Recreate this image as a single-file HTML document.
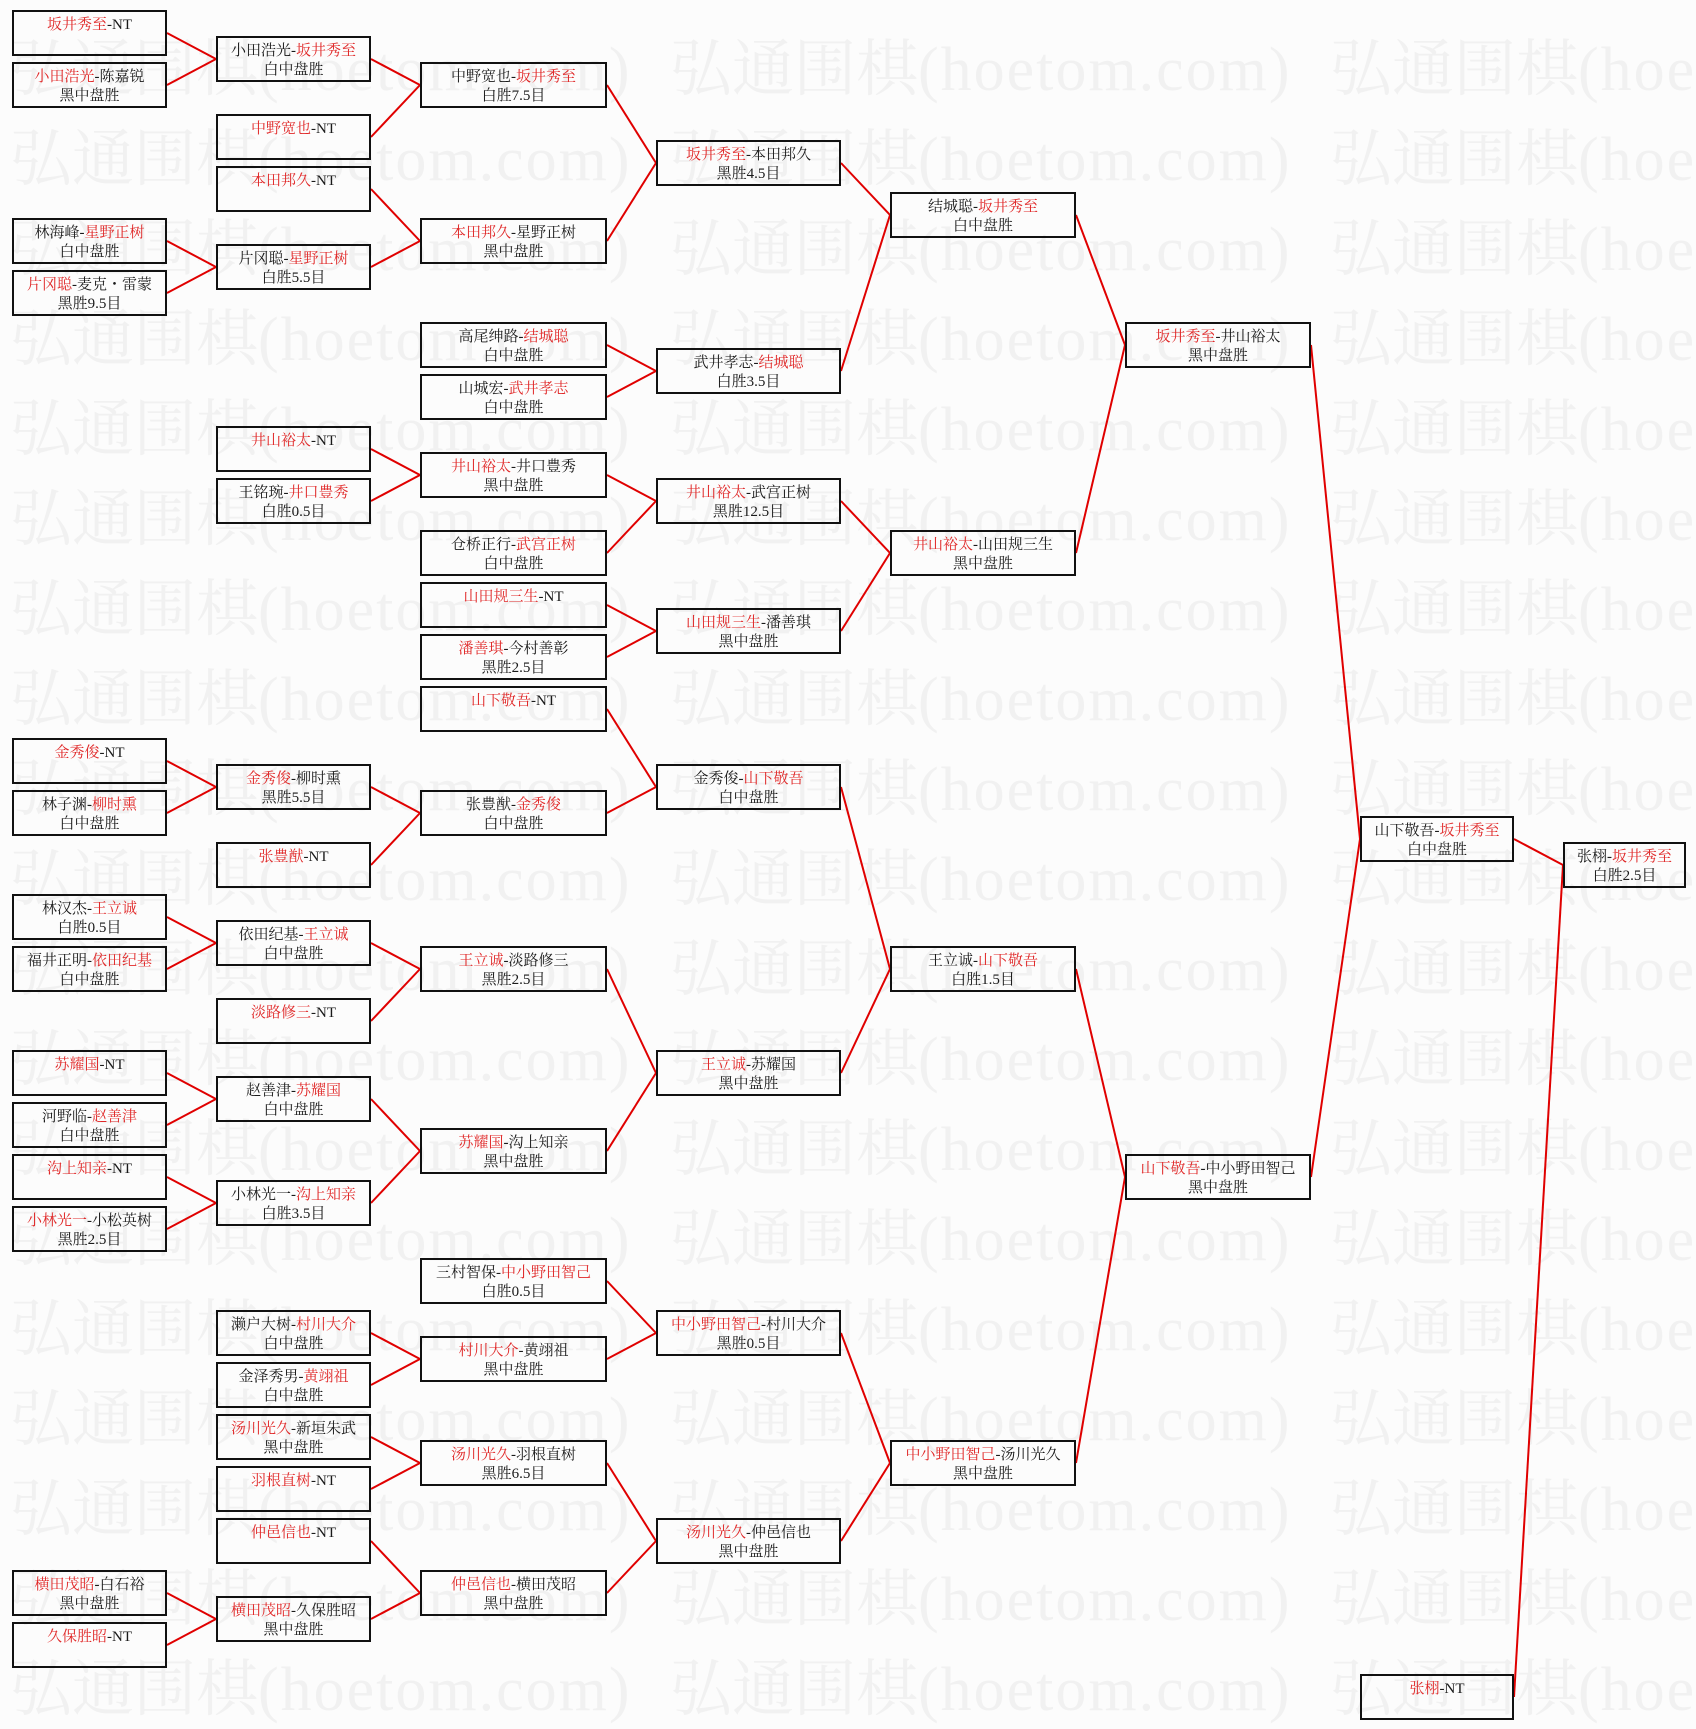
<!DOCTYPE html>
<html><head><meta charset="utf-8">
<style>
html,body{margin:0;padding:0;}
body{width:1696px;height:1729px;position:relative;overflow:hidden;background:#fcfcfc;font-family:"Liberation Serif","Noto Serif CJK SC",serif;}
.wm{position:absolute;left:10px;white-space:nowrap;font-size:62px;line-height:62px;color:#f1f1f1;font-family:"Liberation Serif","Noto Serif CJK SC",serif;}
.wm span.u{display:inline-block;width:660px;}
.wm i{font-style:normal;font-family:"Liberation Serif",serif;letter-spacing:2px;}
svg{position:absolute;left:0;top:0;}
.b{position:absolute;height:46px;box-sizing:border-box;border:2px solid #111;text-align:center;font-size:15px;line-height:19px;padding-top:4px;white-space:nowrap;color:#1a1a1a;}
.c1,.c2{width:155px}.c1{left:12px}.c2{left:216px}
.c3{left:420px;width:187px}.c4{left:656px;width:185px}
.c5{left:890px;width:186px}.c6{left:1125px;width:186px}
.c7{left:1360px;width:154px}.c8{left:1563px;width:123px}
.r{color:#e02828}
</style></head><body>

<div class="wm" style="top:39px"><span class="u">弘通围棋<i>(hoetom.com)</i></span><span class="u">弘通围棋<i>(hoetom.com)</i></span><span class="u">弘通围棋<i>(hoetom.com)</i></span></div>
<div class="wm" style="top:129px"><span class="u">弘通围棋<i>(hoetom.com)</i></span><span class="u">弘通围棋<i>(hoetom.com)</i></span><span class="u">弘通围棋<i>(hoetom.com)</i></span></div>
<div class="wm" style="top:219px"><span class="u">弘通围棋<i>(hoetom.com)</i></span><span class="u">弘通围棋<i>(hoetom.com)</i></span><span class="u">弘通围棋<i>(hoetom.com)</i></span></div>
<div class="wm" style="top:309px"><span class="u">弘通围棋<i>(hoetom.com)</i></span><span class="u">弘通围棋<i>(hoetom.com)</i></span><span class="u">弘通围棋<i>(hoetom.com)</i></span></div>
<div class="wm" style="top:399px"><span class="u">弘通围棋<i>(hoetom.com)</i></span><span class="u">弘通围棋<i>(hoetom.com)</i></span><span class="u">弘通围棋<i>(hoetom.com)</i></span></div>
<div class="wm" style="top:489px"><span class="u">弘通围棋<i>(hoetom.com)</i></span><span class="u">弘通围棋<i>(hoetom.com)</i></span><span class="u">弘通围棋<i>(hoetom.com)</i></span></div>
<div class="wm" style="top:579px"><span class="u">弘通围棋<i>(hoetom.com)</i></span><span class="u">弘通围棋<i>(hoetom.com)</i></span><span class="u">弘通围棋<i>(hoetom.com)</i></span></div>
<div class="wm" style="top:669px"><span class="u">弘通围棋<i>(hoetom.com)</i></span><span class="u">弘通围棋<i>(hoetom.com)</i></span><span class="u">弘通围棋<i>(hoetom.com)</i></span></div>
<div class="wm" style="top:759px"><span class="u">弘通围棋<i>(hoetom.com)</i></span><span class="u">弘通围棋<i>(hoetom.com)</i></span><span class="u">弘通围棋<i>(hoetom.com)</i></span></div>
<div class="wm" style="top:849px"><span class="u">弘通围棋<i>(hoetom.com)</i></span><span class="u">弘通围棋<i>(hoetom.com)</i></span><span class="u">弘通围棋<i>(hoetom.com)</i></span></div>
<div class="wm" style="top:939px"><span class="u">弘通围棋<i>(hoetom.com)</i></span><span class="u">弘通围棋<i>(hoetom.com)</i></span><span class="u">弘通围棋<i>(hoetom.com)</i></span></div>
<div class="wm" style="top:1029px"><span class="u">弘通围棋<i>(hoetom.com)</i></span><span class="u">弘通围棋<i>(hoetom.com)</i></span><span class="u">弘通围棋<i>(hoetom.com)</i></span></div>
<div class="wm" style="top:1119px"><span class="u">弘通围棋<i>(hoetom.com)</i></span><span class="u">弘通围棋<i>(hoetom.com)</i></span><span class="u">弘通围棋<i>(hoetom.com)</i></span></div>
<div class="wm" style="top:1209px"><span class="u">弘通围棋<i>(hoetom.com)</i></span><span class="u">弘通围棋<i>(hoetom.com)</i></span><span class="u">弘通围棋<i>(hoetom.com)</i></span></div>
<div class="wm" style="top:1299px"><span class="u">弘通围棋<i>(hoetom.com)</i></span><span class="u">弘通围棋<i>(hoetom.com)</i></span><span class="u">弘通围棋<i>(hoetom.com)</i></span></div>
<div class="wm" style="top:1389px"><span class="u">弘通围棋<i>(hoetom.com)</i></span><span class="u">弘通围棋<i>(hoetom.com)</i></span><span class="u">弘通围棋<i>(hoetom.com)</i></span></div>
<div class="wm" style="top:1479px"><span class="u">弘通围棋<i>(hoetom.com)</i></span><span class="u">弘通围棋<i>(hoetom.com)</i></span><span class="u">弘通围棋<i>(hoetom.com)</i></span></div>
<div class="wm" style="top:1569px"><span class="u">弘通围棋<i>(hoetom.com)</i></span><span class="u">弘通围棋<i>(hoetom.com)</i></span><span class="u">弘通围棋<i>(hoetom.com)</i></span></div>
<div class="wm" style="top:1659px"><span class="u">弘通围棋<i>(hoetom.com)</i></span><span class="u">弘通围棋<i>(hoetom.com)</i></span><span class="u">弘通围棋<i>(hoetom.com)</i></span></div>

<svg width="1696" height="1729" viewBox="0 0 1696 1729">
<g stroke="#e00000" stroke-width="2" fill="none">
<line x1="167" y1="33" x2="216" y2="59"/><line x1="167" y1="85" x2="216" y2="59"/>
<line x1="167" y1="241" x2="216" y2="267"/><line x1="167" y1="293" x2="216" y2="267"/>
<line x1="167" y1="761" x2="216" y2="787"/><line x1="167" y1="813" x2="216" y2="787"/>
<line x1="167" y1="917" x2="216" y2="943"/><line x1="167" y1="969" x2="216" y2="943"/>
<line x1="167" y1="1073" x2="216" y2="1099"/><line x1="167" y1="1125" x2="216" y2="1099"/>
<line x1="167" y1="1177" x2="216" y2="1203"/><line x1="167" y1="1229" x2="216" y2="1203"/>
<line x1="167" y1="1593" x2="216" y2="1619"/><line x1="167" y1="1645" x2="216" y2="1619"/>

<line x1="371" y1="59" x2="420" y2="85"/><line x1="371" y1="137" x2="420" y2="85"/>
<line x1="371" y1="189" x2="420" y2="241"/><line x1="371" y1="267" x2="420" y2="241"/>
<line x1="371" y1="449" x2="420" y2="475"/><line x1="371" y1="501" x2="420" y2="475"/>
<line x1="371" y1="787" x2="420" y2="813"/><line x1="371" y1="865" x2="420" y2="813"/>
<line x1="371" y1="943" x2="420" y2="969"/><line x1="371" y1="1021" x2="420" y2="969"/>
<line x1="371" y1="1099" x2="420" y2="1151"/><line x1="371" y1="1203" x2="420" y2="1151"/>
<line x1="371" y1="1333" x2="420" y2="1359"/><line x1="371" y1="1385" x2="420" y2="1359"/>
<line x1="371" y1="1437" x2="420" y2="1463"/><line x1="371" y1="1489" x2="420" y2="1463"/>
<line x1="371" y1="1541" x2="420" y2="1593"/><line x1="371" y1="1619" x2="420" y2="1593"/>

<line x1="607" y1="85" x2="656" y2="163"/><line x1="607" y1="241" x2="656" y2="163"/>
<line x1="607" y1="345" x2="656" y2="371"/><line x1="607" y1="397" x2="656" y2="371"/>
<line x1="607" y1="475" x2="656" y2="501"/><line x1="607" y1="553" x2="656" y2="501"/>
<line x1="607" y1="605" x2="656" y2="631"/><line x1="607" y1="657" x2="656" y2="631"/>
<line x1="607" y1="709" x2="656" y2="787"/><line x1="607" y1="813" x2="656" y2="787"/>
<line x1="607" y1="969" x2="656" y2="1073"/><line x1="607" y1="1151" x2="656" y2="1073"/>
<line x1="607" y1="1281" x2="656" y2="1333"/><line x1="607" y1="1359" x2="656" y2="1333"/>
<line x1="607" y1="1463" x2="656" y2="1541"/><line x1="607" y1="1593" x2="656" y2="1541"/>

<line x1="841" y1="163" x2="890" y2="215"/><line x1="841" y1="371" x2="890" y2="215"/>
<line x1="841" y1="501" x2="890" y2="553"/><line x1="841" y1="631" x2="890" y2="553"/>
<line x1="841" y1="787" x2="890" y2="969"/><line x1="841" y1="1073" x2="890" y2="969"/>
<line x1="841" y1="1333" x2="890" y2="1463"/><line x1="841" y1="1541" x2="890" y2="1463"/>

<line x1="1076" y1="215" x2="1125" y2="345"/><line x1="1076" y1="553" x2="1125" y2="345"/>
<line x1="1076" y1="969" x2="1125" y2="1177"/><line x1="1076" y1="1463" x2="1125" y2="1177"/>

<line x1="1311" y1="345" x2="1360" y2="839"/><line x1="1311" y1="1177" x2="1360" y2="839"/>

<line x1="1514" y1="839" x2="1563" y2="865"/><line x1="1514" y1="1697" x2="1563" y2="865"/>
</g>
</svg>

<!-- Column 1 -->
<div class="b c1" style="top:10px"><span class="r">坂井秀至</span>-NT</div>
<div class="b c1" style="top:62px"><span class="r">小田浩光</span>-陈嘉锐<br>黑中盘胜</div>
<div class="b c1" style="top:218px">林海峰-<span class="r">星野正树</span><br>白中盘胜</div>
<div class="b c1" style="top:270px"><span class="r">片冈聪</span>-麦克・雷蒙<br>黑胜9.5目</div>
<div class="b c1" style="top:738px"><span class="r">金秀俊</span>-NT</div>
<div class="b c1" style="top:790px">林子渊-<span class="r">柳时熏</span><br>白中盘胜</div>
<div class="b c1" style="top:894px">林汉杰-<span class="r">王立诚</span><br>白胜0.5目</div>
<div class="b c1" style="top:946px">福井正明-<span class="r">依田纪基</span><br>白中盘胜</div>
<div class="b c1" style="top:1050px"><span class="r">苏耀国</span>-NT</div>
<div class="b c1" style="top:1102px">河野临-<span class="r">赵善津</span><br>白中盘胜</div>
<div class="b c1" style="top:1154px"><span class="r">沟上知亲</span>-NT</div>
<div class="b c1" style="top:1206px"><span class="r">小林光一</span>-小松英树<br>黑胜2.5目</div>
<div class="b c1" style="top:1570px"><span class="r">横田茂昭</span>-白石裕<br>黑中盘胜</div>
<div class="b c1" style="top:1622px"><span class="r">久保胜昭</span>-NT</div>

<!-- Column 2 -->
<div class="b c2" style="top:36px">小田浩光-<span class="r">坂井秀至</span><br>白中盘胜</div>
<div class="b c2" style="top:114px"><span class="r">中野宽也</span>-NT</div>
<div class="b c2" style="top:166px"><span class="r">本田邦久</span>-NT</div>
<div class="b c2" style="top:244px">片冈聪-<span class="r">星野正树</span><br>白胜5.5目</div>
<div class="b c2" style="top:426px"><span class="r">井山裕太</span>-NT</div>
<div class="b c2" style="top:478px">王铭琬-<span class="r">井口豊秀</span><br>白胜0.5目</div>
<div class="b c2" style="top:764px"><span class="r">金秀俊</span>-柳时熏<br>黑胜5.5目</div>
<div class="b c2" style="top:842px"><span class="r">张豊猷</span>-NT</div>
<div class="b c2" style="top:920px">依田纪基-<span class="r">王立诚</span><br>白中盘胜</div>
<div class="b c2" style="top:998px"><span class="r">淡路修三</span>-NT</div>
<div class="b c2" style="top:1076px">赵善津-<span class="r">苏耀国</span><br>白中盘胜</div>
<div class="b c2" style="top:1180px">小林光一-<span class="r">沟上知亲</span><br>白胜3.5目</div>
<div class="b c2" style="top:1310px">濑户大树-<span class="r">村川大介</span><br>白中盘胜</div>
<div class="b c2" style="top:1362px">金泽秀男-<span class="r">黄翊祖</span><br>白中盘胜</div>
<div class="b c2" style="top:1414px"><span class="r">汤川光久</span>-新垣朱武<br>黑中盘胜</div>
<div class="b c2" style="top:1466px"><span class="r">羽根直树</span>-NT</div>
<div class="b c2" style="top:1518px"><span class="r">仲邑信也</span>-NT</div>
<div class="b c2" style="top:1596px"><span class="r">横田茂昭</span>-久保胜昭<br>黑中盘胜</div>

<!-- Column 3 -->
<div class="b c3" style="top:62px">中野宽也-<span class="r">坂井秀至</span><br>白胜7.5目</div>
<div class="b c3" style="top:218px"><span class="r">本田邦久</span>-星野正树<br>黑中盘胜</div>
<div class="b c3" style="top:322px">高尾绅路-<span class="r">结城聪</span><br>白中盘胜</div>
<div class="b c3" style="top:374px">山城宏-<span class="r">武井孝志</span><br>白中盘胜</div>
<div class="b c3" style="top:452px"><span class="r">井山裕太</span>-井口豊秀<br>黑中盘胜</div>
<div class="b c3" style="top:530px">仓桥正行-<span class="r">武宫正树</span><br>白中盘胜</div>
<div class="b c3" style="top:582px"><span class="r">山田规三生</span>-NT</div>
<div class="b c3" style="top:634px"><span class="r">潘善琪</span>-今村善彰<br>黑胜2.5目</div>
<div class="b c3" style="top:686px"><span class="r">山下敬吾</span>-NT</div>
<div class="b c3" style="top:790px">张豊猷-<span class="r">金秀俊</span><br>白中盘胜</div>
<div class="b c3" style="top:946px"><span class="r">王立诚</span>-淡路修三<br>黑胜2.5目</div>
<div class="b c3" style="top:1128px"><span class="r">苏耀国</span>-沟上知亲<br>黑中盘胜</div>
<div class="b c3" style="top:1258px">三村智保-<span class="r">中小野田智己</span><br>白胜0.5目</div>
<div class="b c3" style="top:1336px"><span class="r">村川大介</span>-黄翊祖<br>黑中盘胜</div>
<div class="b c3" style="top:1440px"><span class="r">汤川光久</span>-羽根直树<br>黑胜6.5目</div>
<div class="b c3" style="top:1570px"><span class="r">仲邑信也</span>-横田茂昭<br>黑中盘胜</div>

<!-- Column 4 -->
<div class="b c4" style="top:140px"><span class="r">坂井秀至</span>-本田邦久<br>黑胜4.5目</div>
<div class="b c4" style="top:348px">武井孝志-<span class="r">结城聪</span><br>白胜3.5目</div>
<div class="b c4" style="top:478px"><span class="r">井山裕太</span>-武宫正树<br>黑胜12.5目</div>
<div class="b c4" style="top:608px"><span class="r">山田规三生</span>-潘善琪<br>黑中盘胜</div>
<div class="b c4" style="top:764px">金秀俊-<span class="r">山下敬吾</span><br>白中盘胜</div>
<div class="b c4" style="top:1050px"><span class="r">王立诚</span>-苏耀国<br>黑中盘胜</div>
<div class="b c4" style="top:1310px"><span class="r">中小野田智己</span>-村川大介<br>黑胜0.5目</div>
<div class="b c4" style="top:1518px"><span class="r">汤川光久</span>-仲邑信也<br>黑中盘胜</div>

<!-- Column 5 -->
<div class="b c5" style="top:192px">结城聪-<span class="r">坂井秀至</span><br>白中盘胜</div>
<div class="b c5" style="top:530px"><span class="r">井山裕太</span>-山田规三生<br>黑中盘胜</div>
<div class="b c5" style="top:946px">王立诚-<span class="r">山下敬吾</span><br>白胜1.5目</div>
<div class="b c5" style="top:1440px"><span class="r">中小野田智己</span>-汤川光久<br>黑中盘胜</div>

<!-- Column 6 -->
<div class="b c6" style="top:322px"><span class="r">坂井秀至</span>-井山裕太<br>黑中盘胜</div>
<div class="b c6" style="top:1154px"><span class="r">山下敬吾</span>-中小野田智己<br>黑中盘胜</div>

<!-- Column 7 -->
<div class="b c7" style="top:816px">山下敬吾-<span class="r">坂井秀至</span><br>白中盘胜</div>
<div class="b c7" style="top:1674px"><span class="r">张栩</span>-NT</div>

<!-- Column 8 -->
<div class="b c8" style="top:842px">张栩-<span class="r">坂井秀至</span><br>白胜2.5目</div>

</body></html>
